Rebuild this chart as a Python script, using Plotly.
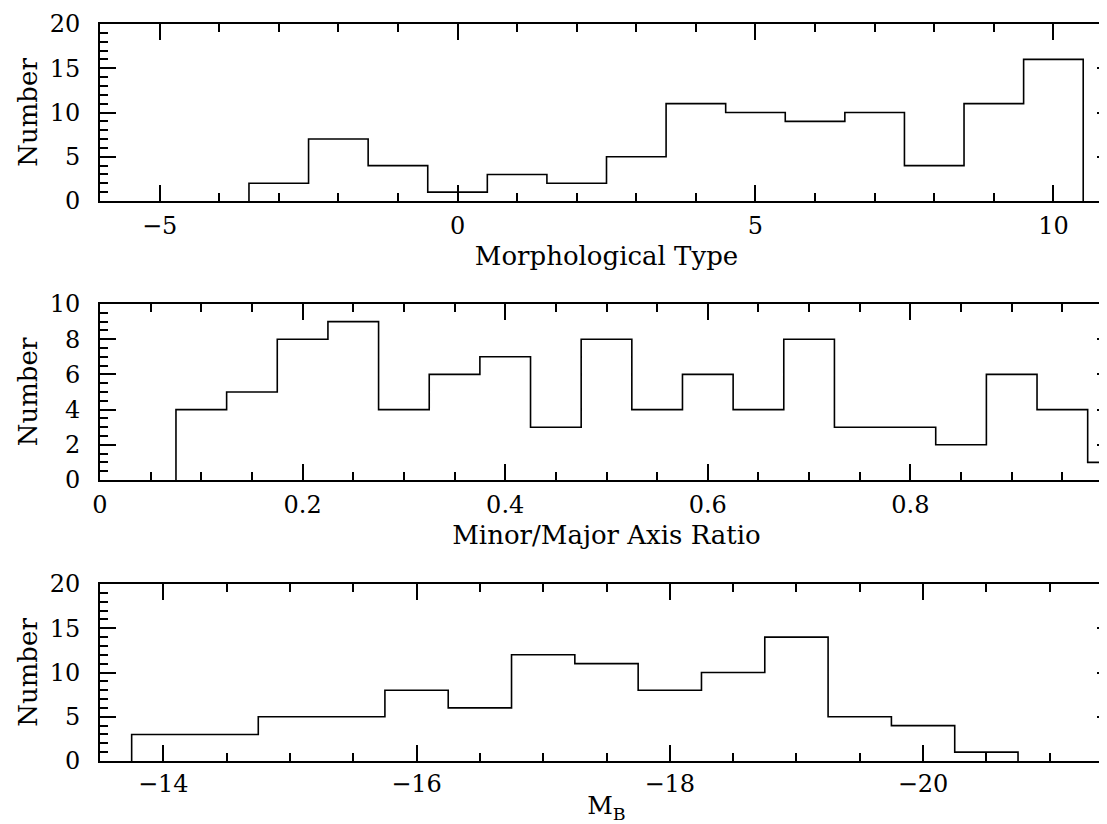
import plotly.graph_objects as go

# ---- data ----
type_edges = [-3.5, -2.5, -1.5, -0.5, 0.5, 1.5, 2.5, 3.5, 4.5, 5.5, 6.5, 7.5, 8.5, 9.5, 10.5]
type_counts = [2, 7, 4, 1, 3, 2, 5, 11, 10, 9, 10, 4, 11, 16]

ratio_edges = [0.075, 0.125, 0.175, 0.225, 0.275, 0.325, 0.375, 0.425, 0.475, 0.525,
               0.575, 0.625, 0.675, 0.725, 0.775, 0.825, 0.875, 0.925, 0.975, 1.025]
ratio_counts = [4, 5, 8, 9, 4, 6, 7, 3, 8, 4, 6, 4, 8, 3, 3, 2, 6, 4, 1]

mb_edges = [-13.75, -14.25, -14.75, -15.25, -15.75, -16.25, -16.75, -17.25, -17.75,
            -18.25, -18.75, -19.25, -19.75, -20.25, -20.75]
mb_counts = [3, 3, 5, 5, 8, 6, 12, 11, 8, 10, 14, 5, 4, 1]

x_titles = ["Morphological Type", "Minor/Major Axis Ratio", "M<sub>B</sub>"]
y_title = "Number"


def step_xy(edges, counts):
    xs = [edges[0], edges[0]] + list(edges[1:]) + [edges[-1]]
    ys = [0] + list(counts) + [counts[-1], 0]
    return xs, ys


FONT = "DejaVu Serif"
TICKSIZE = 24
TITLESIZE = 26
W, H = 1107, 824
L, R, T, B = 92, 2, 16, 71
ph = H - T - B


def dom(top_px, bot_px):
    return [(H - B - bot_px) / ph, (H - B - top_px) / ph]


fig = go.Figure()
panels = [
    (type_edges, type_counts, "x", "y"),
    (ratio_edges, ratio_counts, "x2", "y2"),
    (mb_edges, mb_counts, "x3", "y3"),
]
for e, c, xa, ya in panels:
    xs, ys = step_xy(e, c)
    fig.add_trace(go.Scatter(x=xs, y=ys, mode="lines", line=dict(color="black", width=1.6, shape="hv"),
                             xaxis=xa, yaxis=ya, showlegend=False, hoverinfo="skip"))

common = dict(showline=True, linecolor="black", linewidth=2, mirror="allticks", ticks="inside",
              tickcolor="black", tickwidth=1.5, showgrid=False, zeroline=False, automargin=False,
              tickfont=dict(family=FONT, size=TICKSIZE, color="black"))


def minor(dt):
    return dict(dtick=dt, tick0=0, ticks="inside", ticklen=8, tickcolor="black", tickwidth=1.5)


xdefs = [
    dict(range=[-6, 11], dtick=5, tick0=0, minor=minor(1)),
    dict(range=[0, 1], dtick=0.2, tick0=0, minor=minor(0.05)),
    dict(range=[-13.5, -21.5], dtick=2, tick0=0, minor=minor(0.5)),
]
ydefs = [
    dict(range=[0, 20], dtick=5, tick0=0, minor=minor(1)),
    dict(range=[0, 10], dtick=2, tick0=0, minor=minor(0.5)),
    dict(range=[0, 20], dtick=5, tick0=0, minor=minor(1)),
]
doms = [dom(16, 193), dom(296, 472), dom(576, 753)]
x_standoff = [8, 8, 0]
x_labstand = [2, 2, 0]
x_titlesize = [TITLESIZE, TITLESIZE, 25]

layout = dict(width=W, height=H, margin=dict(l=L, r=R, t=T, b=B),
              paper_bgcolor="white", plot_bgcolor="white",
              font=dict(family=FONT, size=TICKSIZE, color="black"))
names = ["", "2", "3"]
for i, n in enumerate(names):
    xd = dict(common, **xdefs[i], ticklen=16, anchor="y" + n, domain=[0, 1], ticklabelstandoff=x_labstand[i],
              title=dict(text=x_titles[i], standoff=x_standoff[i],
                         font=dict(family=FONT, size=x_titlesize[i], color="black")))
    yd = dict(common, **ydefs[i], ticklen=16, anchor="x" + n, domain=doms[i], ticklabelstandoff=13,
              title=dict(text=y_title, standoff=5, font=dict(family=FONT, size=TITLESIZE, color="black")))
    layout["xaxis" + n] = xd
    layout["yaxis" + n] = yd

fig.update_layout(**layout)
fig.write_html("out.html")
